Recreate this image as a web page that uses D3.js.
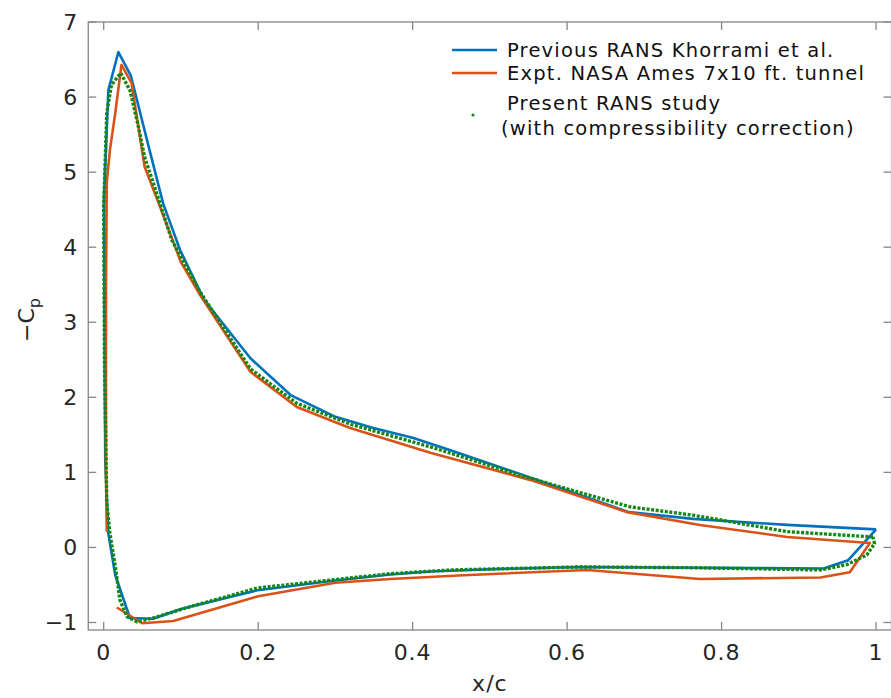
<!DOCTYPE html>
<html>
<head>
<meta charset="utf-8">
<script src="https://cdn.jsdelivr.net/npm/d3@7"></script>
<style>
body{margin:0;background:#fff;}
text{font-family:"DejaVu Sans",sans-serif;}
</style>
</head>
<body>
<script>
// previous RANS (Khorrami et al.)
var prevX = [1.0, 0.885, 0.763, 0.68, 0.60, 0.536, 0.45, 0.40, 0.349, 0.30, 0.242, 0.19, 0.13, 0.099, 0.077, 0.056, 0.035, 0.019, 0.006, 0.0004, 0.001, 0.002, 0.006, 0.015, 0.034, 0.064, 0.10, 0.199, 0.30, 0.371, 0.423, 0.50, 0.617, 0.763, 0.932, 0.964, 1.0];
var prevCp = [0.24, 0.30, 0.38, 0.47, 0.76, 0.99, 1.29, 1.46, 1.59, 1.74, 2.03, 2.52, 3.30, 3.96, 4.58, 5.43, 6.29, 6.60, 6.09, 4.67, 3.0, 1.17, 0.19, -0.37, -0.94, -0.95, -0.82, -0.57, -0.44, -0.36, -0.32, -0.29, -0.26, -0.27, -0.28, -0.17, 0.24];

// experiment NASA Ames
var exptX = [0.017, 0.05, 0.09, 0.20, 0.30, 0.371, 0.466, 0.626, 0.772, 0.928, 0.966, 0.992, 0.885, 0.772, 0.678, 0.552, 0.423, 0.319, 0.25, 0.19, 0.125, 0.10, 0.071, 0.053, 0.036, 0.023, 0.015, 0.008, 0.004, 0.003, 0.003, 0.004];
var exptCp = [-0.80, -1.01, -0.98, -0.65, -0.47, -0.42, -0.37, -0.30, -0.42, -0.40, -0.33, 0.06, 0.14, 0.30, 0.47, 0.90, 1.26, 1.59, 1.87, 2.34, 3.36, 3.80, 4.59, 5.07, 6.19, 6.43, 5.79, 5.29, 4.86, 3.43, 1.0, 0.21];

// present RANS study
var presX = [0.996, 0.885, 0.763, 0.682, 0.60, 0.537, 0.423, 0.32, 0.25, 0.19, 0.125, 0.088, 0.066, 0.053, 0.044, 0.034, 0.022, 0.01, 0.004, 0.0, 0.001, 0.004, 0.008, 0.015, 0.021, 0.03, 0.043, 0.064, 0.112, 0.199, 0.371, 0.45, 0.617, 0.763, 0.928, 0.962, 0.988, 0.998, 0.996];
var presCp = [0.14, 0.21, 0.43, 0.54, 0.78, 0.97, 1.34, 1.64, 1.92, 2.38, 3.40, 4.10, 4.80, 5.20, 5.65, 6.09, 6.32, 6.16, 5.79, 4.54, 2.5, 0.6, 0.19, -0.25, -0.70, -0.92, -0.99, -0.94, -0.79, -0.54, -0.35, -0.30, -0.26, -0.27, -0.30, -0.23, -0.10, 0.05, 0.14];

var xTicks = [0, 0.2, 0.4, 0.6, 0.8, 1],
    yTicks = [-1, 0, 1, 2, 3, 4, 5, 6, 7];

var legendNames = ["Previous RANS Khorrami et al.", "Expt. NASA Ames 7x10 ft. tunnel", "Present RANS study", "(with compressibility correction)"];

var W = 891, H = 698,
    plotL = 88.25, plotR = 891.5, plotT = 22, plotB = 630;

var svg = d3.select("body").append("svg")
    .attr("width", W)
    .attr("height", H);

var x = d3.scaleLinear().domain([-0.02, 1.02]).range([plotL, plotR]),
    y = d3.scaleLinear().domain([-1.1, 7]).range([plotB, plotT]);

var axisCol = "#868686", tickLen = 8;

//box
svg.append("rect")
    .attr("x", plotL).attr("y", plotT)
    .attr("width", plotR - plotL).attr("height", plotB - plotT)
    .attr("fill", "none")
    .attr("stroke", axisCol)
    .attr("stroke-width", 1.3);

//ticks bottom/top + labels
var gx = svg.append("g");
xTicks.forEach(function(t){
    gx.append("line").attr("x1", x(t)).attr("x2", x(t)).attr("y1", plotB).attr("y2", plotB - tickLen)
        .attr("stroke", axisCol).attr("stroke-width", 1.3);
    gx.append("line").attr("x1", x(t)).attr("x2", x(t)).attr("y1", plotT).attr("y2", plotT + tickLen)
        .attr("stroke", axisCol).attr("stroke-width", 1.3);
    gx.append("text").attr("x", x(t)).attr("y", plotB + 30)
        .attr("text-anchor", "middle").attr("font-size", "22px").attr("letter-spacing", "1px").attr("fill", "#262626")
        .text(d3.format("~g")(t));
});
var gy = svg.append("g");
yTicks.forEach(function(t){
    gy.append("line").attr("x1", plotL).attr("x2", plotL + tickLen).attr("y1", y(t)).attr("y2", y(t))
        .attr("stroke", axisCol).attr("stroke-width", 1.3);
    gy.append("line").attr("x1", plotR).attr("x2", plotR - tickLen).attr("y1", y(t)).attr("y2", y(t))
        .attr("stroke", axisCol).attr("stroke-width", 1.3);
    gy.append("text").attr("x", plotL - 11).attr("y", y(t)).attr("dy", "0.36em")
        .attr("text-anchor", "end").attr("font-size", "22px").attr("fill", "#262626")
        .text(t < 0 ? "\u2212" + Math.abs(t) : t);
});

//axis titles
svg.append("text")
    .attr("x", x(0.5)).attr("y", 691)
    .attr("text-anchor", "middle").attr("font-size", "22px").attr("letter-spacing", "1px").attr("fill", "#262626")
    .text("x/c");
var yl = svg.append("text")
    .attr("transform", "translate(34,320)rotate(-90)")
    .attr("text-anchor", "middle").attr("font-size", "22px").attr("fill", "#262626");
yl.append("tspan").text("\u2212C");
yl.append("tspan").attr("font-size", "16px").attr("dy", "6").text("p");

//curves
var line = d3.line()
    .x(function(d){ return x(d[0]); })
    .y(function(d){ return y(d[1]); });

function pairs(xs, ys){ return xs.map(function(v, i){ return [v, ys[i]]; }); }

svg.append("path").datum(pairs(prevX, prevCp))
    .attr("d", line).attr("fill", "none")
    .attr("stroke", "#0072BD").attr("stroke-width", 2.6).attr("stroke-linejoin", "round");
svg.append("path").datum(pairs(exptX, exptCp))
    .attr("d", line).attr("fill", "none")
    .attr("stroke", "#D95319").attr("stroke-width", 2.6).attr("stroke-linejoin", "round");
svg.append("path").datum(pairs(presX, presCp))
    .attr("d", line).attr("fill", "none")
    .attr("stroke", "#128712").attr("stroke-width", 3.4)
    .attr("stroke-dasharray", "3,1.6").attr("stroke-linejoin", "round");

//legend
var leg = svg.append("g").attr("class", "legend");
leg.append("rect").attr("x", 440).attr("y", 34).attr("width", 420).attr("height", 110).attr("fill", "#fff");
var legCols = ["#0072BD", "#D95319"],
    legY = [50, 73];
legY.forEach(function(ly, i){
    leg.append("line").attr("x1", 452).attr("x2", 497).attr("y1", ly).attr("y2", ly)
        .attr("stroke", legCols[i]).attr("stroke-width", 2.6);
});
leg.append("circle").attr("cx", 473).attr("cy", 115).attr("r", 1.6).attr("fill", "#128712");
var legTextY = [50, 73, 103, 128],
    legTextX = [507, 507, 507, 501];
legendNames.forEach(function(n, i){
    leg.append("text").attr("x", legTextX[i]).attr("y", legTextY[i]).attr("dy", "0.36em")
        .attr("font-size", "19.5px").attr("letter-spacing", "1.2px").attr("fill", "#111")
        .text(n);
});
</script>
</body>
</html>
